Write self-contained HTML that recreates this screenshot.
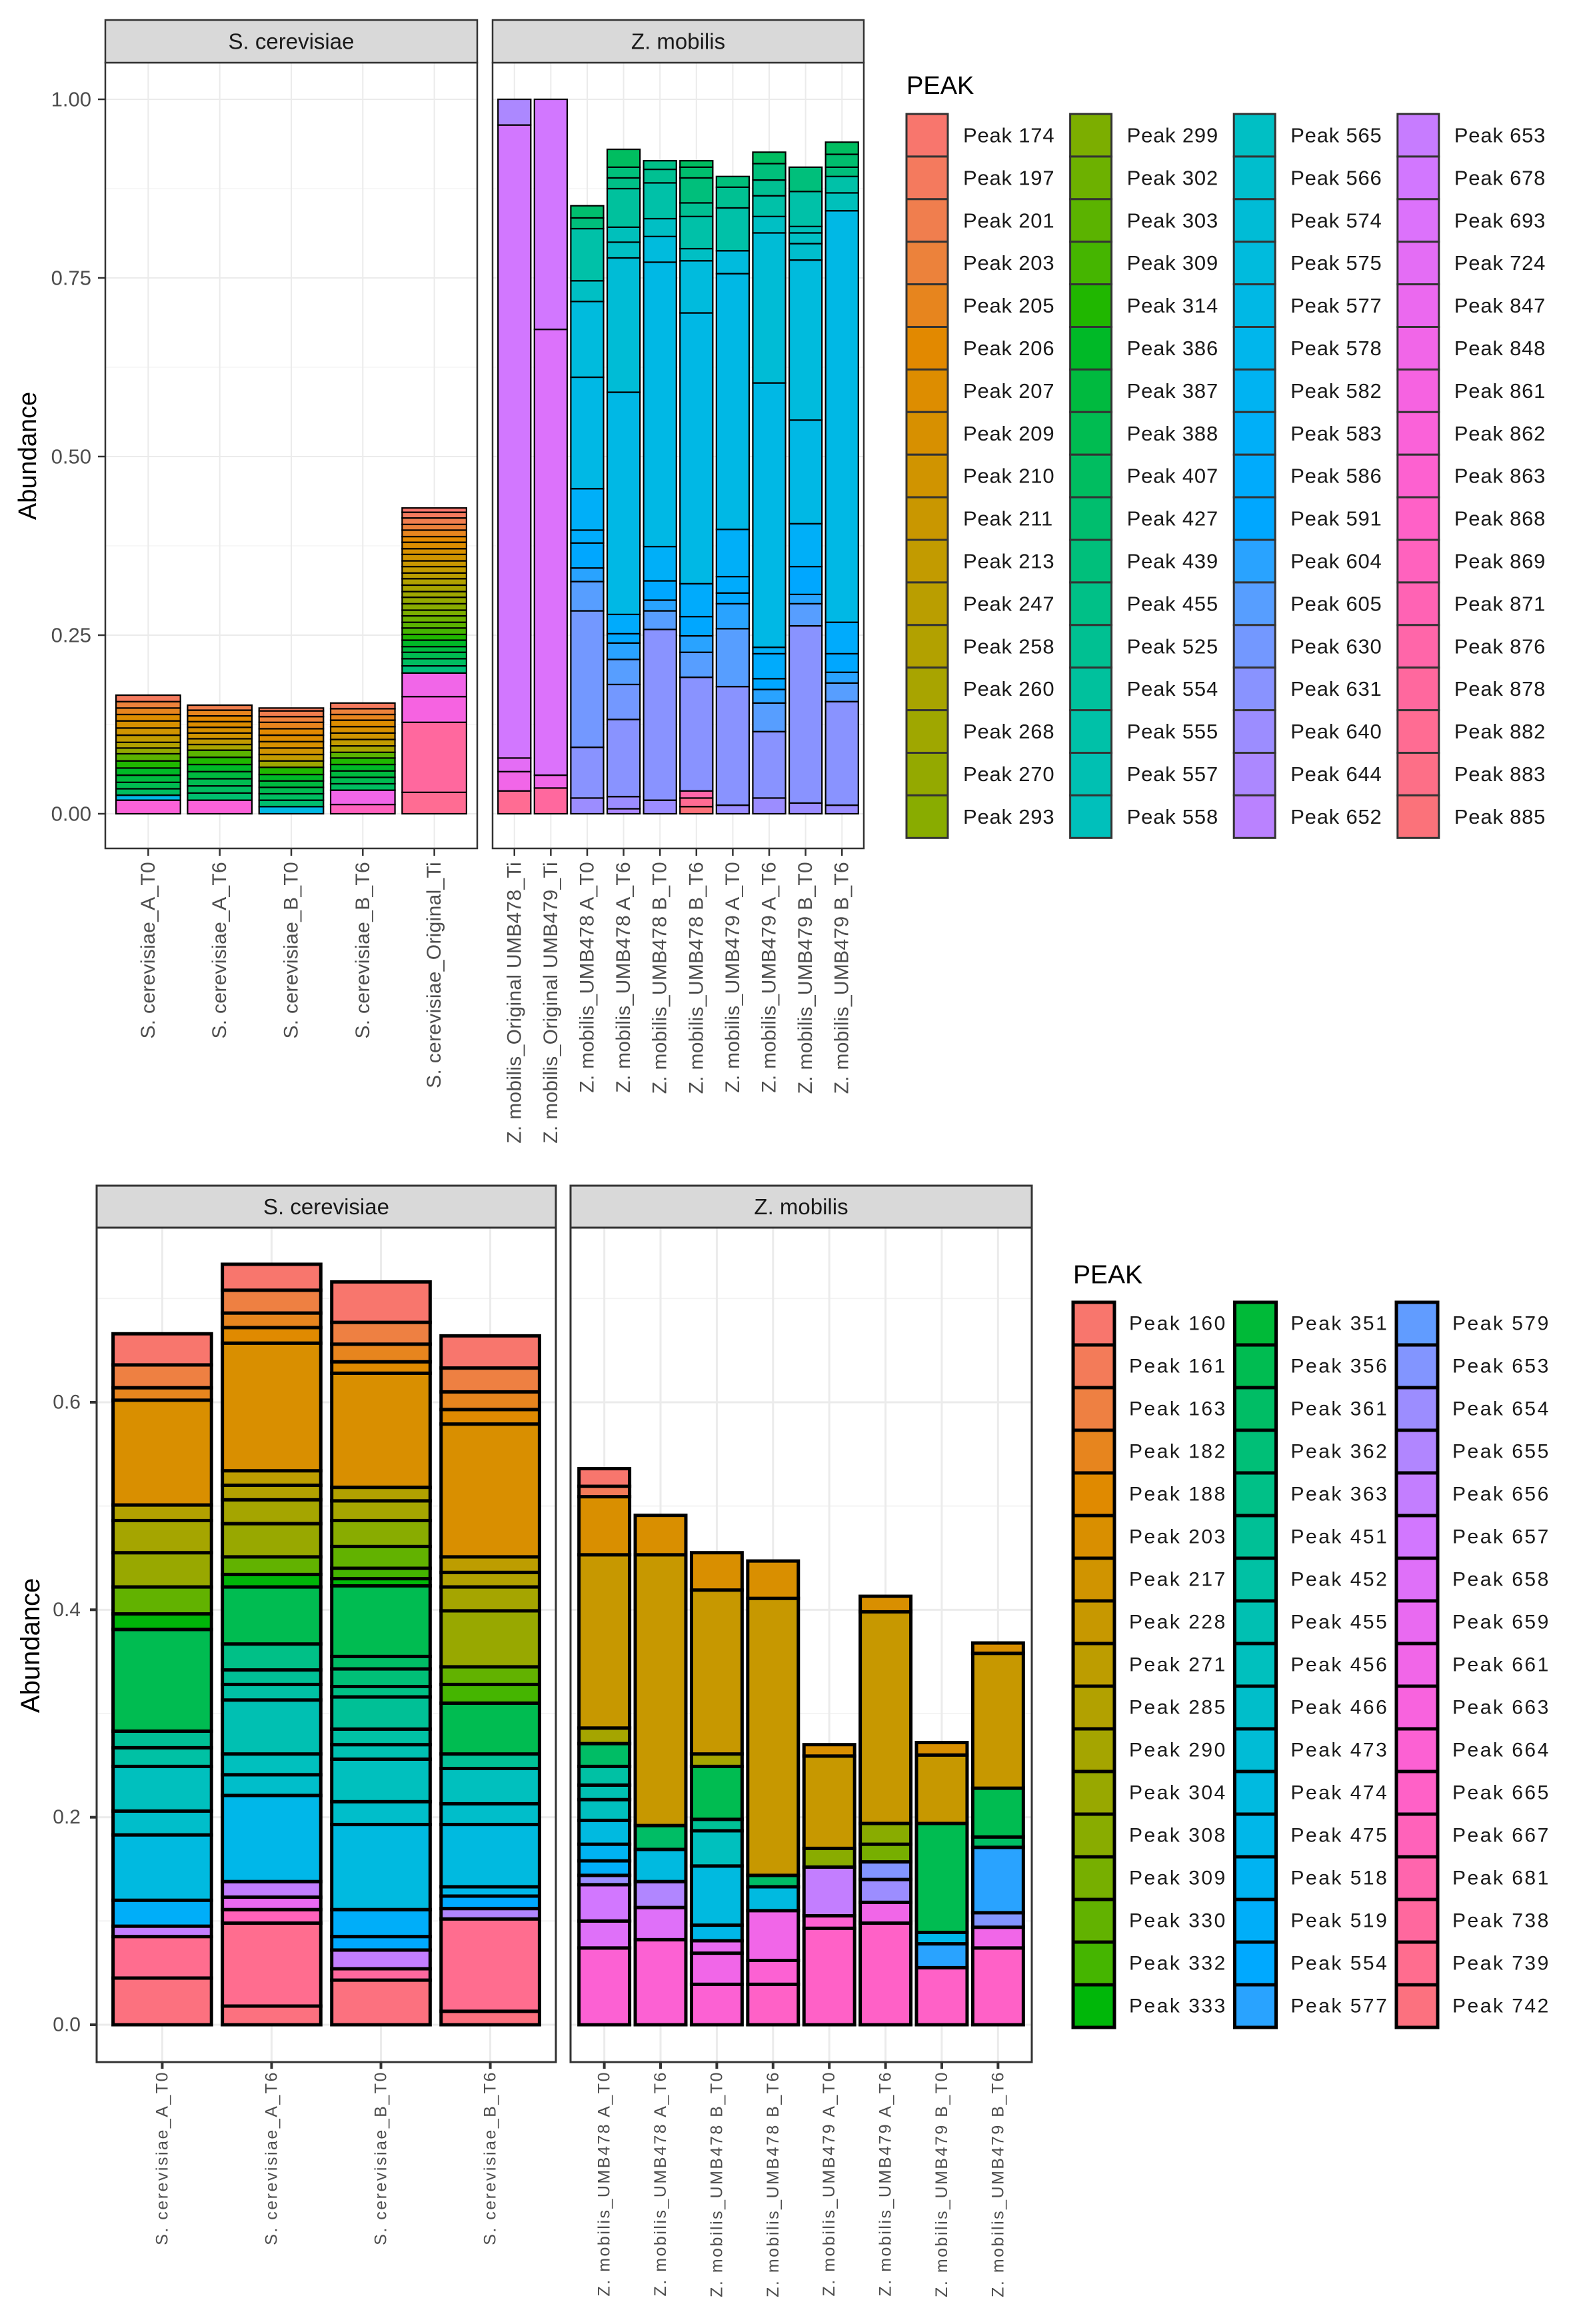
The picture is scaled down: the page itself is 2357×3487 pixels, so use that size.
<!DOCTYPE html>
<html><head><meta charset="utf-8"><style>
html,body{margin:0;padding:0;background:#fff;}
svg{display:block;font-family:"Liberation Sans",Arial,sans-serif;}
</style></head><body>
<svg id="fig" width="2357" height="3487" viewBox="0 0 2357 3487" xmlns="http://www.w3.org/2000/svg">
<rect width="2357" height="3487" fill="#fff"/>
</svg>
<script>
// ---------- TOP CHART DATA ----------
const topLevels = [174,197,201,203,205,206,207,209,210,211,213,247,258,260,268,270,293,
  299,302,303,309,314,386,387,388,407,427,439,455,525,554,555,557,558,
  565,566,574,575,577,578,582,583,586,591,604,605,630,631,640,644,652,
  653,678,693,724,847,848,861,862,863,868,869,871,876,878,882,883,885];
const topScerCats = ["S. cerevisiae_A_T0","S. cerevisiae_A_T6","S. cerevisiae_B_T0","S. cerevisiae_B_T6","S. cerevisiae_Original_Ti"];
const topZmobCats = ["Z. mobilis_Original UMB478_Ti","Z. mobilis_Original UMB479_Ti","Z. mobilis_UMB478 A_T0","Z. mobilis_UMB478 A_T6","Z. mobilis_UMB478 B_T0","Z. mobilis_UMB478 B_T6","Z. mobilis_UMB479 A_T0","Z. mobilis_UMB479 A_T6","Z. mobilis_UMB479 B_T0","Z. mobilis_UMB479 B_T6"];
const topYTicks = [0,0.25,0.5,0.75,1.0];
const topYTickLabels = ["0.00","0.25","0.50","0.75","1.00"];
// stacks listed bottom-up: [peak, abundance]
const topScerStacks = [
 [[862,.019],[577,.007],[407,.009],[388,.009],[387,.01],[386,.01],[314,.01],[303,.01],[270,.008],[258,.008],[213,.01],[210,.01],[209,.01],[207,.009],[205,.009],[203,.009],[197,.009]],
 [[862,.019],[427,.01],[407,.01],[388,.01],[387,.01],[386,.01],[314,.01],[303,.01],[260,.008],[213,.008],[210,.008],[209,.008],[207,.008],[206,.008],[205,.008],[201,.007]],
 [[577,.01],[427,.009],[407,.009],[388,.009],[387,.009],[386,.009],[314,.01],[268,.009],[213,.009],[210,.009],[209,.009],[207,.009],[206,.009],[205,.009],[203,.008],[201,.008],[197,.004]],
 [[869,.013],[848,.02],[407,.009],[388,.009],[387,.009],[386,.009],[314,.009],[303,.008],[260,.009],[213,.009],[210,.009],[209,.009],[207,.009],[205,.008],[203,.008],[197,.008]],
 [[882,.03],[878,.098],[861,.036],[848,.033],[439,.01],[407,.01],[388,.009],[387,.008],[386,.009],[314,.008],[309,.009],[303,.008],[302,.009],[299,.008],[293,.009],[270,.009],[268,.008],[260,.009],[258,.009],[247,.008],[213,.009],[211,.008],[210,.009],[209,.008],[207,.009],[206,.008],[205,.009],[203,.008],[201,.009],[197,.008],[174,.006]]
];
const topZmobStacks = [
 [[882,.032],[848,.027],[724,.019],[678,.886],[644,.036]],
 [[878,.036],[848,.018],[693,.624],[678,.322]],
 [[640,.022],[631,.071],[630,.191],[605,.041],[604,.019],[591,.035],[586,.018],[583,.058],[577,.156],[575,.106],[565,.029],[555,.073],[439,.015],[427,.017]],
 [[644,.007],[640,.017],[631,.108],[630,.049],[605,.035],[604,.023],[591,.013],[586,.027],[577,.311],[574,.188],[565,.022],[558,.021],[554,.054],[455,.015],[439,.015],[407,.025]],
 [[640,.019],[631,.239],[605,.026],[604,.015],[591,.027],[583,.048],[577,.398],[575,.036],[565,.025],[555,.05],[525,.019],[455,.012]],
 [[885,.01],[882,.012],[876,.01],[631,.159],[605,.035],[604,.023],[591,.027],[586,.046],[577,.379],[575,.073],[565,.017],[555,.045],[525,.019],[439,.035],[427,.015],[407,.009]],
 [[640,.012],[631,.166],[605,.081],[604,.035],[591,.015],[586,.023],[583,.066],[577,.358],[575,.032],[555,.06],[525,.029],[439,.015]],
 [[640,.022],[631,.093],[605,.04],[604,.019],[591,.015],[586,.035],[583,.009],[577,.37],[574,.21],[565,.023],[555,.029],[525,.022],[439,.023],[407,.016]],
 [[640,.015],[631,.248],[605,.031],[604,.013],[591,.039],[583,.06],[577,.145],[575,.224],[566,.023],[565,.015],[558,.009],[555,.049],[439,.034]],
 [[640,.012],[631,.145],[605,.026],[604,.015],[591,.026],[586,.044],[577,.576],[558,.025],[555,.023],[439,.013],[427,.018],[407,.017]]
];

// ---------- BOTTOM CHART DATA ----------
const botLevels = [160,161,163,182,188,203,217,228,271,285,290,304,308,309,330,332,333,
  351,356,361,362,363,451,452,455,456,466,473,474,475,518,519,554,577,
  579,653,654,655,656,657,658,659,661,663,664,665,667,681,738,739,742];
const botScerCats = ["S. cerevisiae_A_T0","S. cerevisiae_A_T6","S. cerevisiae_B_T0","S. cerevisiae_B_T6"];
const botZmobCats = ["Z. mobilis_UMB478 A_T0","Z. mobilis_UMB478 A_T6","Z. mobilis_UMB478 B_T0","Z. mobilis_UMB478 B_T6","Z. mobilis_UMB479 A_T0","Z. mobilis_UMB479 A_T6","Z. mobilis_UMB479 B_T0","Z. mobilis_UMB479 B_T6"];
const botYTicks = [0,0.2,0.4,0.6];
const botYTickLabels = ["0.0","0.2","0.4","0.6"];
const botScerStacks = [
 [[742,.045],[739,.04],[656,.01],[519,.025],[474,.063],[466,.023],[456,.043],[452,.018],[451,.016],[356,.098],[333,.015],[330,.026],[304,.033],[290,.031],[285,.015],[203,.101],[182,.012],[163,.022],[160,.03]],
 [[742,.018],[739,.08],[667,.013],[659,.012],[656,.015],[475,.083],[466,.02],[456,.02],[455,.052],[452,.015],[451,.014],[363,.025],[356,.055],[333,.012],[330,.017],[304,.032],[290,.023],[285,.014],[271,.014],[203,.123],[188,.015],[182,.014],[163,.022],[160,.025]],
 [[742,.043],[738,.011],[656,.018],[554,.013],[519,.026],[474,.082],[466,.022],[456,.041],[455,.014],[452,.015],[451,.031],[363,.01],[362,.017],[361,.012],[356,.068],[333,.007],[332,.01],[330,.021],[308,.025],[290,.019],[285,.013],[203,.11],[188,.011],[182,.017],[163,.021],[160,.039]],
 [[742,.013],[739,.089],[655,.01],[554,.012],[475,.009],[474,.06],[466,.02],[456,.034],[451,.014],[356,.049],[332,.018],[330,.017],[304,.054],[290,.023],[285,.014],[271,.015],[203,.128],[188,.014],[182,.017],[163,.023],[160,.031]]
];
const botZmobStacks = [
 [[664,.074],[658,.026],[657,.035],[654,.009],[519,.014],[518,.016],[474,.023],[456,.02],[455,.014],[452,.018],[361,.022],[290,.015],[228,.167],[203,.056],[161,.01],[160,.017]],
 [[664,.082],[658,.031],[655,.025],[474,.031],[361,.023],[228,.261],[203,.038]],
 [[664,.039],[661,.03],[659,.012],[475,.015],[474,.057],[456,.034],[451,.011],[356,.051],[290,.012],[228,.158],[203,.036]],
 [[665,.039],[664,.023],[661,.048],[474,.023],[361,.011],[228,.267],[203,.036]],
 [[665,.093],[664,.012],[656,.047],[308,.018],[228,.089],[203,.011]],
 [[665,.098],[661,.02],[654,.022],[653,.017],[309,.017],[308,.02],[228,.204],[203,.015]],
 [[665,.055],[577,.023],[475,.011],[356,.105],[228,.066],[203,.012]],
 [[665,.074],[661,.02],[653,.014],[577,.063],[361,.01],[356,.047],[228,.13],[203,.01]]
];

// ---------- helpers ----------
const NS="http://www.w3.org/2000/svg";
const svg=document.getElementById('fig');
function mk(tag,attrs,parent){const e=document.createElementNS(NS,tag);for(const k in attrs)e.setAttribute(k,attrs[k]);(parent||svg).appendChild(e);return e;}
function hcl(h,c,l){
  const hr=h*Math.PI/180,u=c*Math.cos(hr),v=c*Math.sin(hr);
  const Xn=95.047,Yn=100,Zn=108.883;
  const Y=l>8?Yn*Math.pow((l+16)/116,3):Yn*l/903.3;
  const un=4*Xn/(Xn+15*Yn+3*Zn),vn=9*Yn/(Xn+15*Yn+3*Zn);
  const up=u/(13*l)+un,vp=v/(13*l)+vn;
  const X=9*Y*up/(4*vp),Z=Y*(12-3*up-20*vp)/(4*vp);
  const x=X/100,y=Y/100,z=Z/100;
  let r=3.2404542*x-1.5371385*y-0.4985314*z,g=-0.9692660*x+1.8760108*y+0.0415560*z,b=0.0556434*x-0.2040259*y+1.0572252*z;
  const gm=t=>{t=t<=0.0031308?12.92*t:1.055*Math.pow(t,1/2.4)-0.055;return Math.round(Math.max(0,Math.min(1,t))*255);};
  return 'rgb('+gm(r)+','+gm(g)+','+gm(b)+')';
}
function palette(levels){const n=levels.length,m={};levels.forEach((p,i)=>{m[p]=hcl(15+360*i/n,100,65);});return m;}

function drawChart(cfg){
  const g=mk('g',{});
  
  
  const col=palette(cfg.levels);
  const yS=v=>cfg.y0-v*cfg.yPer;
  cfg.panels.forEach((p,pi)=>{
    const pg=mk('g',{},g);
    
    
    const n=p.cats.length,unit=(p.x1-p.x0)/(n+0.2);
    const xS=i=>p.x0+(i+0.6)*unit;
    mk('rect',{x:p.x0,y:cfg.pTop,width:p.x1-p.x0,height:cfg.pBot-cfg.pTop,fill:'#fff'},pg);
    cfg.minor.forEach(v=>{const gl=mk('line',{x1:p.x0,x2:p.x1,y1:yS(v),y2:yS(v),stroke:'#f2f2f2','stroke-width':cfg.gridW*0.6},pg);});
    cfg.yTicks.forEach(v=>{const gl=mk('line',{x1:p.x0,x2:p.x1,y1:yS(v),y2:yS(v),stroke:'#ebebeb','stroke-width':cfg.gridW},pg);});
    p.cats.forEach((c,i)=>{mk('line',{x1:xS(i),x2:xS(i),y1:cfg.pTop,y2:cfg.pBot,stroke:'#ebebeb','stroke-width':cfg.gridW},pg);});
    p.stacks.forEach((st,i)=>{
      let acc=0;const bw=unit*0.9;
      const bg=mk('g',{},pg);
      
      
      st.forEach(seg=>{
        const yt=yS(acc+seg[1]),yb=yS(acc);acc+=seg[1];
        const r=mk('rect',{x:xS(i)-bw/2,y:yt,width:bw,height:yb-yt,fill:col[seg[0]],stroke:'#000','stroke-width':cfg.barW},bg);
        
        
        const t=mk('title',{},r);t.textContent='Peak '+seg[0]+': '+seg[1];
      });
    });
    mk('rect',{x:p.x0,y:cfg.pTop,width:p.x1-p.x0,height:cfg.pBot-cfg.pTop,fill:'none',stroke:'#333','stroke-width':cfg.borderW},pg);
    const sr=mk('rect',{x:p.x0,y:cfg.sTop,width:p.x1-p.x0,height:cfg.pTop-cfg.sTop,fill:'#d9d9d9',stroke:'#333','stroke-width':cfg.borderW},pg);
    
    
    const st=mk('text',{x:(p.x0+p.x1)/2,y:(cfg.sTop+cfg.pTop)/2,'text-anchor':'middle','dominant-baseline':'central','font-size':cfg.stripFont,fill:'#1a1a1a'},pg);
    st.textContent=p.title;
    
    
    p.cats.forEach((c,i)=>{
      mk('line',{x1:xS(i),x2:xS(i),y1:cfg.pBot,y2:cfg.pBot+cfg.tickLen,stroke:'#333','stroke-width':cfg.tickW},pg);
      const t=mk('text',{x:xS(i),y:cfg.xLabY,'text-anchor':'end','dominant-baseline':'central','font-size':cfg.xFont,'letter-spacing':cfg.xLs,fill:'#4d4d4d',transform:'rotate(-90 '+xS(i)+' '+cfg.xLabY+')'},pg);
      t.textContent=c;
      
      
    });
    if(pi===0){
      cfg.yTicks.forEach((v,k)=>{
        mk('line',{x1:p.x0-cfg.tickLen,x2:p.x0,y1:yS(v),y2:yS(v),stroke:'#333','stroke-width':cfg.tickW},pg);
        const t=mk('text',{x:cfg.yLabX,y:yS(v),'text-anchor':'end','dominant-baseline':'central','font-size':cfg.yFont,fill:'#4d4d4d'},pg);
        t.textContent=cfg.yTickLabels[k];
        
        
      });
    }
  });
  const at=mk('text',{x:cfg.axX,y:cfg.axY,'text-anchor':'middle','dominant-baseline':'central','font-size':cfg.axFont,fill:'#000',transform:'rotate(-90 '+cfg.axX+' '+cfg.axY+')'},g);
  at.textContent='Abundance';
  
  
  const lg=mk('g',{},g);
  
  
  const lt=mk('text',{x:cfg.lg.x,y:cfg.lg.titleY,'dominant-baseline':'central','font-size':cfg.lg.titleFont,fill:'#000'},lg);
  lt.textContent='PEAK';
  
  
  cfg.levels.forEach((p,i)=>{
    const c=Math.floor(i/17),r=i%17;
    const kx=cfg.lg.x+c*cfg.lg.colW,ky=cfg.lg.y+r*cfg.lg.rowH;
    const e=mk('g',{},lg);
    
    
    mk('rect',{x:kx,y:ky,width:cfg.lg.keyW,height:cfg.lg.rowH,fill:col[p],stroke:cfg.lg.stroke,'stroke-width':cfg.lg.strokeW},e);
    const t=mk('text',{x:kx+cfg.lg.textDx,y:ky+cfg.lg.rowH/2,'dominant-baseline':'central','font-size':cfg.lg.font,'letter-spacing':cfg.lg.ls,fill:'#1a1a1a'},e);
    t.textContent='Peak '+p;
  });
}

drawChart({
  name:'top-chart',levels:topLevels,y0:1221,yPer:1072,pTop:94,pBot:1273,sTop:30,
  yTicks:topYTicks,yTickLabels:topYTickLabels,minor:[0.125,0.375,0.625,0.875],
  gridW:2,barW:2.2,borderW:2.5,tickW:2.5,tickLen:11,stripFont:33,xFont:30,xLs:0.3,xLabY:1293,yFont:31,yLabX:137,
  axX:42,axY:684,axFont:38,
  panels:[{key:'s-cerevisiae',title:'S. cerevisiae',x0:158,x1:716,cats:topScerCats,stacks:topScerStacks},
          {key:'z-mobilis',title:'Z. mobilis',x0:739,x1:1296,cats:topZmobCats,stacks:topZmobStacks}],
  lg:{x:1360,y:171,titleY:129,titleFont:38,rowH:63.9,colW:245.6,keyW:62,textDx:85,font:31,ls:0.8,stroke:'#333',strokeW:3}
});
drawChart({
  name:'bottom-chart',levels:botLevels,y0:3038,yPer:1556.7,pTop:1842,pBot:3094,sTop:1779,
  yTicks:botYTicks,yTickLabels:botYTickLabels,minor:[0.1,0.3,0.5,0.7],
  gridW:3,barW:5,borderW:3,tickW:4,tickLen:10,stripFont:33,xFont:25,xLs:2.5,xLabY:3107,yFont:30,yLabX:121,
  axX:46,axY:2469,axFont:40,
  panels:[{key:'s-cerevisiae-bottom',title:'S. cerevisiae',x0:145,x1:834,cats:botScerCats,stacks:botScerStacks},
          {key:'z-mobilis-bottom',title:'Z. mobilis',x0:856,x1:1548,cats:botZmobCats,stacks:botZmobStacks}],
  lg:{x:1610,y:1954,titleY:1913,titleFont:39,rowH:64,colW:242.5,keyW:62,textDx:84,font:30,ls:2.5,stroke:'#000',strokeW:5}
});
</script>
</body></html>
